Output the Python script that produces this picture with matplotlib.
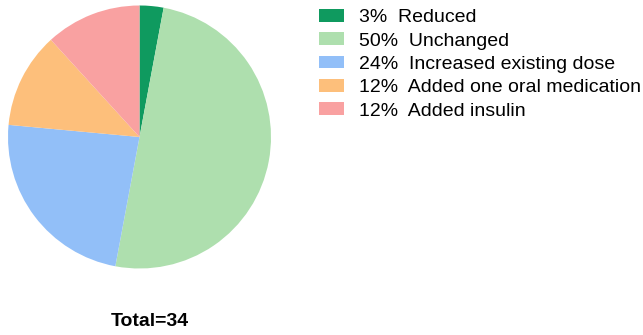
import matplotlib
matplotlib.use("Agg")
from matplotlib import pyplot as plt

# data
labels = ["Reduced", "Unchanged", "Increased existing dose",
          "Added one oral medication", "Added insulin"]
counts = [1, 17, 8, 4, 4]
pcts = ["3%", "50%", "24%", "12%", "12%"]
colors = ["#0f9a5f", "#aedfae", "#92bff8", "#fdbf7b", "#f9a1a1"]
total = sum(counts)

plt.rcParams["font.family"] = ["Liberation Sans", "DejaVu Sans"]

W, H = 643, 335
fig = plt.figure(figsize=(W / 100, H / 100), dpi=100)

# pie axes, centre ~ (139.5, 137) px, radius ~131 px
cx, cy, r = 139.5, 137, 131.5
ax = fig.add_axes([(cx - r) / W, (H - cy - r) / H, 2 * r / W, 2 * r / H])
wedges, _ = ax.pie(counts, colors=colors, startangle=90, counterclock=False,
                   radius=1.0, wedgeprops=dict(linewidth=0))
ax.set_xlim(-1, 1)
ax.set_ylim(-1, 1)
ax.set_aspect("equal")
ax.axis("off")

leg_labels = [p + "  " + l for p, l in zip(pcts, labels)]
fig.legend(wedges, leg_labels, loc="upper left",
           bbox_to_anchor=(319 / W, 1 - 9 / H), frameon=False,
           fontsize=14, borderpad=0, borderaxespad=0,
           handlelength=1.3, handleheight=0.62, handletextpad=0.78,
           labelspacing=0.32)

fig.text(150 / W, 1 - 322 / H, "Total=%d" % total, ha="center", va="center",
         fontsize=14, fontweight="bold")

fig.savefig("out.png", dpi=100)
